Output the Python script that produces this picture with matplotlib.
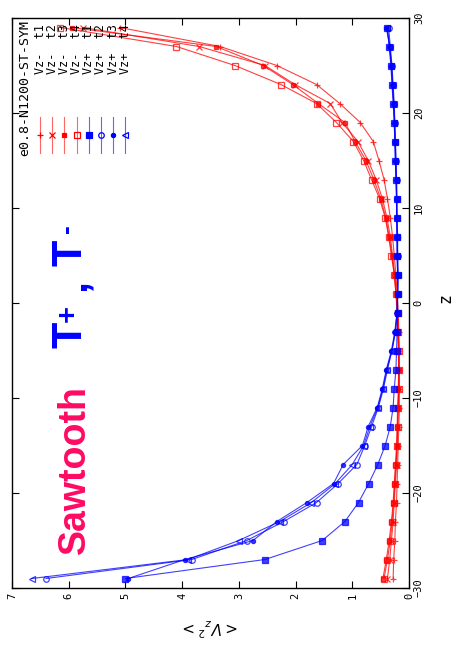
import numpy as np
import matplotlib
matplotlib.use("Agg")
import matplotlib.pyplot as plt

# data (plot is drawn rotated: horizontal = <Vz^2>, vertical = z)
z = [-29, -27, -25, -23, -21, -19, -17, -15, -13, -11, -9, -7, -5, -3, -1,
     1, 3, 5, 7, 9, 11, 13, 15, 17, 19, 21, 23, 25, 27, 29]

red_t1 = [0.28, 0.27, 0.25, 0.24, 0.22, 0.21, 0.20, 0.19, 0.18, 0.17, 0.17, 0.17, 0.17, 0.18, 0.19,
          0.21, 0.23, 0.26, 0.29, 0.33, 0.38, 0.44, 0.53, 0.63, 0.86, 1.22, 1.63, 2.33, 3.33, 5.10]
red_t2 = [0.38, 0.34, 0.31, 0.28, 0.26, 0.24, 0.22, 0.21, 0.20, 0.19, 0.18, 0.18, 0.18, 0.19, 0.20,
          0.22, 0.25, 0.29, 0.33, 0.39, 0.47, 0.58, 0.72, 0.90, 1.18, 1.39, 2.01, 2.54, 3.70, 5.75]
red_t3 = [0.46, 0.40, 0.35, 0.31, 0.28, 0.26, 0.24, 0.22, 0.21, 0.20, 0.19, 0.18, 0.19, 0.20, 0.21,
          0.23, 0.26, 0.30, 0.35, 0.41, 0.50, 0.62, 0.76, 0.95, 1.13, 1.60, 2.05, 2.57, 3.40, 5.95]
red_t4 = [0.44, 0.38, 0.33, 0.30, 0.27, 0.25, 0.23, 0.21, 0.20, 0.19, 0.18, 0.18, 0.18, 0.19, 0.20,
          0.23, 0.26, 0.31, 0.36, 0.42, 0.52, 0.66, 0.80, 0.98, 1.28, 1.63, 2.26, 3.07, 4.10, 6.15]

blue_t1 = [5.00, 2.54, 1.53, 1.13, 0.89, 0.71, 0.55, 0.42, 0.33, 0.28, 0.26, 0.23, 0.22, 0.21, 0.20,
           0.20, 0.20, 0.21, 0.21, 0.22, 0.22, 0.23, 0.24, 0.25, 0.26, 0.28, 0.30, 0.32, 0.35, 0.38]
blue_t2 = [6.40, 3.83, 2.86, 2.21, 1.63, 1.25, 0.92, 0.78, 0.66, 0.54, 0.45, 0.38, 0.30, 0.24, 0.21,
           0.20, 0.20, 0.20, 0.21, 0.21, 0.22, 0.22, 0.23, 0.24, 0.25, 0.26, 0.28, 0.30, 0.33, 0.36]
blue_t3 = [4.95, 3.95, 2.75, 2.33, 1.80, 1.33, 1.16, 0.82, 0.72, 0.56, 0.47, 0.40, 0.31, 0.25, 0.21,
           0.20, 0.19, 0.20, 0.20, 0.21, 0.21, 0.22, 0.23, 0.24, 0.25, 0.27, 0.29, 0.31, 0.34, 0.40]
blue_t4 = [6.65, 3.90, 3.00, 2.28, 1.72, 1.30, 1.00, 0.80, 0.69, 0.55, 0.46, 0.39, 0.30, 0.24, 0.21,
           0.20, 0.20, 0.21, 0.21, 0.22, 0.22, 0.23, 0.24, 0.25, 0.26, 0.27, 0.29, 0.31, 0.34, 0.39]

labels = ["Vz-  t1", "Vz-  t2", "Vz-  t3", "Vz-  t4", "Vz+  t1", "Vz+  t2", "Vz+  t3", "Vz+  t4"]
series = [red_t1, red_t2, red_t3, red_t4, blue_t1, blue_t2, blue_t3, blue_t4]
colors = ["#ff0000"] * 4 + ["#0000ff"] * 4
markers = ["+", "x", "s", "s", "s", "o", "o", "<"]
filled = [True, True, True, False, True, False, True, False]
msizes = [5, 4, 3.5, 4.5, 4.5, 4, 3, 4]

vticks = [7, 6, 5, 4, 3, 2, 1, 0]
zticks = [-30, -20, -10, 0, 10, 20, 30]

W, H = 454, 652
fig = plt.figure(figsize=(W / 100, H / 100), dpi=100)
ax = fig.add_axes([12 / W, 1 - 588 / H, (409 - 12) / W, (588 - 18) / H])

for vals, c, m, f, ms in zip(series, colors, markers, filled, msizes):
    ax.plot(vals, z, color=c, lw=0.8, alpha=0.75, marker=m, ms=ms,
            mfc=c if f else "none", mec=c, mew=0.9)

ax.set_xlim(7, 0)
ax.set_ylim(-30, 30)
ax.set_xticks(vticks)
ax.set_yticks(zticks)
ax.yaxis.tick_right()
ax.tick_params(direction="in", top=True, bottom=True, left=True, right=True,
               length=5, width=0.8, labelsize=7.5)
for lab in ax.get_xticklabels():
    lab.set_rotation(90)
    lab.set_family("DejaVu Sans Mono")
for lab in ax.get_yticklabels():
    lab.set_rotation(90)
    lab.set_va("center")
    lab.set_family("DejaVu Sans Mono")
for s in ax.spines.values():
    s.set_linewidth(1.0)

fig.text(212 / W, 1 - 627 / H, r"$<V_z{}^2>$", rotation=180, ha="center", va="center",
         fontsize=11, family="DejaVu Serif")
fig.text(445 / W, 1 - 298 / H, "z", rotation=90, ha="center", va="center",
         fontsize=12, family="DejaVu Sans Mono")

# legend drawn rotated
def fx(px):
    return (px - 12) / 397

def fy(py):
    return 1 - (py - 18) / 570

ax.text(fx(25), fy(20), "e0.8-N1200-ST-SYM", rotation=90, ha="center", va="top",
        fontsize=9.5, family="DejaVu Sans Mono", transform=ax.transAxes)
for i, (lab, c, m, f, ms) in enumerate(zip(labels, colors, markers, filled, msizes)):
    px = 40 + i * 12.2
    ax.text(fx(px), fy(24), lab, rotation=90, ha="center", va="top",
            fontsize=8.5, family="DejaVu Sans Mono", transform=ax.transAxes)
    ax.plot([fx(px), fx(px)], [fy(117), fy(153)], color=c, lw=0.8, alpha=0.6,
            transform=ax.transAxes)
    ax.plot([fx(px)], [fy(135)], color=c, marker=m, ms=ms, mfc=c if f else "none",
            mec=c, mew=0.9, transform=ax.transAxes)

ax.text(fx(75), fy(470), "Sawtooth", rotation=90, ha="center", va="center",
        fontsize=27, fontweight="bold", family="Liberation Sans", color="#ff0a64",
        transform=ax.transAxes)

# "T+ , T-" built from pieces so the superscripts stay small
tkw = dict(rotation=90, rotation_mode="anchor", fontweight="bold",
           family="Liberation Sans", color="#0000ff", transform=ax.transAxes)
ax.text(fx(70.5), fy(335), "T", ha="center", va="center", fontsize=31, **tkw)
ax.text(fx(68), fy(314), "+", ha="center", va="center", fontsize=21, **tkw)
ax.text(fx(85), fy(285), ",", ha="center", va="baseline", fontsize=31, **tkw)
ax.text(fx(70.5), fy(253), "T", ha="center", va="center", fontsize=31, **tkw)
ax.text(fx(66.5), fy(229), "-", ha="center", va="center", fontsize=19, **tkw)

fig.savefig("out.png", dpi=100)
